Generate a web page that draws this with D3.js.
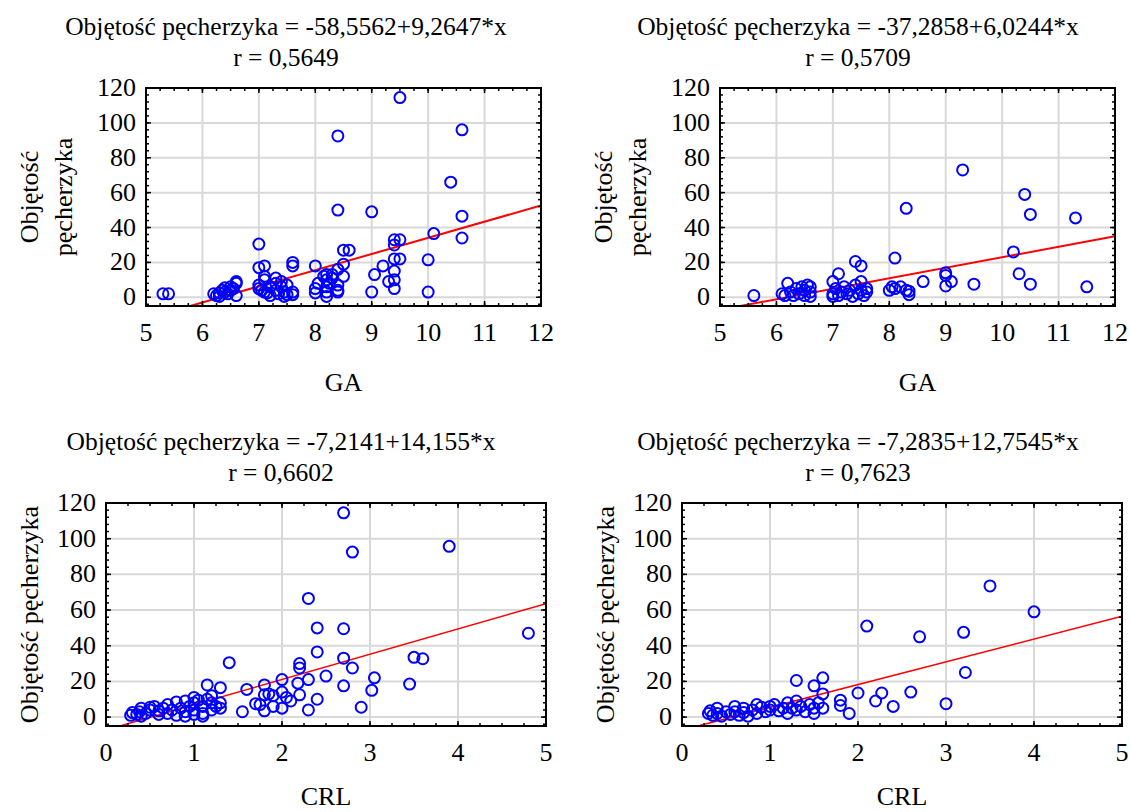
<!DOCTYPE html>
<html>
<head>
<meta charset="utf-8">
<script src="https://d3js.org/d3.v7.min.js"></script>
<style>
body { margin: 0; background: #fff; }
</style>
</head>
<body>
<svg id="chart" width="1130" height="812"></svg>
<script>
// tick values
var gaTicks = [5, 6, 7, 8, 9, 10, 11, 12]
var crlTicks = [0, 1, 2, 3, 4, 5]
var volTicks = [0, 20, 40, 60, 80, 100, 120]

// titles / labels
var titles = [
    "Objętość pęcherzyka = -58,5562+9,2647*x",
    "Objętość pęcherzyka = -37,2858+6,0244*x",
    "Objętość pęcherzyka = -7,2141+14,155*x",
    "Objętość pęcherzyka = -7,2835+12,7545*x"
]
var rLabels = ["r = 0,5649", "r = 0,5709", "r = 0,6602", "r = 0,7623"]
var xLabels = ["GA", "GA", "CRL", "CRL"]
var yLabels = [["Objętość", "pęcherzyka"], ["Objętość", "pęcherzyka"], ["Objętość pęcherzyka"], ["Objętość pęcherzyka"]]

// regression coefficients [intercept, slope]
var coefs = [[-58.5562, 9.2647], [-37.2858, 6.0244], [-7.2141, 14.155], [-7.2835, 12.7545]]

// GA vs volume, first group
var ga1 = [
    [5.3, 2], [5.4, 2],
    [6.2, 2], [6.25, 1], [6.3, 2.5], [6.3, 0.5], [6.35, 4], [6.4, 3], [6.4, 5.5], [6.45, 2], [6.5, 6], [6.5, 4],
    [6.55, 5], [6.6, 9], [6.6, 8], [6.6, 1],
    [7.0, 30.5], [7.0, 17], [7.1, 18], [7.1, 12], [7.1, 10], [7.0, 7], [7.0, 5], [7.05, 4], [7.1, 3], [7.15, 2.5],
    [7.2, 1], [7.2, 6], [7.3, 11], [7.3, 8], [7.3, 4], [7.35, 2], [7.4, 9], [7.4, 6], [7.45, 0.5], [7.45, 3],
    [7.5, 7], [7.5, 1.5], [7.6, 20], [7.6, 18], [7.6, 3], [7.6, 1.5],
    [8.0, 18], [8.0, 5], [8.0, 2.5], [8.05, 8], [8.15, 12], [8.2, 13], [8.2, 10], [8.2, 6], [8.2, 3], [8.2, 0.5],
    [8.25, 8], [8.3, 13], [8.3, 11], [8.4, 92.5], [8.4, 50], [8.4, 16], [8.4, 7], [8.4, 4], [8.4, 3],
    [8.5, 27], [8.6, 27], [8.5, 19], [8.5, 12],
    [9.0, 49], [9.0, 3], [9.05, 13], [9.2, 18], [9.3, 9], [9.4, 33], [9.4, 30], [9.4, 22], [9.4, 15], [9.4, 10],
    [9.4, 5], [9.5, 33], [9.5, 114.5], [9.5, 22],
    [10.0, 21.5], [10.0, 3], [10.1, 36.5], [10.4, 66], [10.6, 96], [10.6, 46.5], [10.6, 34]
]

// GA vs volume, second group
var ga2 = [
    [5.6, 1],
    [6.1, 2], [6.15, 1], [6.2, 8], [6.25, 3], [6.3, 1], [6.35, 5], [6.4, 2], [6.45, 6], [6.5, 4], [6.5, 1],
    [6.55, 7], [6.6, 3], [6.6, 6], [6.6, 0.5],
    [7.0, 9], [7.0, 2], [7.0, 0.5], [7.05, 5], [7.1, 13.5], [7.1, 1], [7.15, 3], [7.2, 6], [7.25, 2], [7.3, 4],
    [7.35, 0.5], [7.4, 20.5], [7.4, 7], [7.45, 2], [7.5, 18], [7.5, 9], [7.5, 4], [7.55, 1], [7.6, 5], [7.6, 3],
    [8.0, 4], [8.05, 6], [8.1, 22.5], [8.1, 5], [8.2, 6], [8.3, 51], [8.3, 4], [8.35, 3.5], [8.35, 1.5], [8.6, 9],
    [9.0, 14], [9.0, 12.5], [9.0, 6.5], [9.1, 9], [9.3, 73], [9.5, 7.5],
    [10.2, 26], [10.3, 13.5], [10.4, 59], [10.5, 47.5], [10.5, 7.5], [11.3, 45.5], [11.5, 6]
]

// CRL vs volume, first group
var crl1 = [
    [0.28, 1], [0.3, 2.5], [0.35, 1.5], [0.38, 3], [0.4, 5], [0.4, 0.5], [0.45, 2], [0.5, 4], [0.5, 5.5], [0.55, 6],
    [0.6, 1.5], [0.6, 3.5], [0.65, 5], [0.7, 7], [0.7, 2], [0.75, 4], [0.8, 8.5], [0.8, 1], [0.85, 5], [0.9, 9],
    [0.9, 3], [0.9, 0.5],
    [0.95, 6], [1.0, 11], [1.0, 8], [1.0, 4], [1.0, 1.5], [1.05, 9.5], [1.1, 2], [1.1, 0.5], [1.1, 6], [1.15, 18],
    [1.15, 10], [1.2, 12], [1.2, 8], [1.2, 4], [1.25, 6], [1.3, 16.5], [1.3, 8], [1.3, 5], [1.4, 30.5],
    [1.55, 3], [1.6, 15.5], [1.7, 7.5], [1.75, 7], [1.8, 18], [1.8, 12.5], [1.8, 3.5], [1.85, 13], [1.9, 12],
    [1.9, 6], [2.0, 21], [2.0, 14], [2.0, 5], [2.05, 11], [2.1, 9],
    [2.2, 30], [2.2, 27.5], [2.18, 19], [2.2, 12.5], [2.3, 66.5], [2.3, 21], [2.3, 4], [2.4, 50], [2.4, 36.5],
    [2.4, 10], [2.5, 23], [2.7, 114.5], [2.7, 49.5], [2.7, 33], [2.7, 17.5], [2.8, 92.5], [2.8, 27.5], [2.9, 5.5],
    [3.02, 15], [3.05, 22], [3.45, 18.5], [3.5, 33.5], [3.6, 32.7], [3.9, 95.7], [4.8, 47]
]

// CRL vs volume, second group
var crl2 = [
    [0.3, 2], [0.32, 3.5], [0.35, 1], [0.4, 5], [0.4, 2], [0.45, 0.5], [0.5, 3], [0.55, 1.5], [0.6, 6], [0.6, 3],
    [0.65, 1], [0.7, 5], [0.7, 2.5], [0.75, 0.5], [0.8, 4], [0.85, 7], [0.85, 2], [0.9, 5.5], [0.95, 3], [1.0, 6],
    [1.0, 4], [1.05, 7], [1.1, 3.5], [1.15, 5], [1.2, 8], [1.2, 2], [1.25, 5], [1.3, 20.5], [1.3, 9], [1.3, 4],
    [1.35, 6], [1.4, 3], [1.45, 7], [1.5, 17.5], [1.5, 5], [1.5, 2], [1.55, 8], [1.6, 22], [1.6, 13], [1.6, 5],
    [1.8, 9.5], [1.8, 6.5], [1.9, 2], [2.0, 13.5], [2.1, 51], [2.2, 9], [2.27, 13.5], [2.4, 6], [2.6, 14],
    [2.7, 45], [3.0, 7.5], [3.2, 47.5], [3.22, 25], [3.5, 73.5], [4.0, 59]
]

var datasets = [ga1, ga2, crl1, crl2]
var xTickSets = [gaTicks, gaTicks, crlTicks, crlTicks]

// layout of each panel (frame box, title centre, y label baselines)
var panels = [
    {left: 146, right: 541, top: 88, bottom: 306, titleX: 286, lw: 2, ylx: [38, 72], xlab: 85},
    {left: 720, right: 1115, top: 88, bottom: 306, titleX: 858, lw: 2, ylx: [612, 646], xlab: 85},
    {left: 106, right: 546, top: 503, bottom: 726, titleX: 281, lw: 1.5, ylx: [38], xlab: 79},
    {left: 682, right: 1122, top: 503, bottom: 726, titleX: 858, lw: 1.5, ylx: [614], xlab: 79}
]

var svg = d3.select("#chart")
var fs = 26

function label(sel, size) {
    return sel.style("font-family", "'Liberation Serif'").style("font-size", (size || fs) + "px").attr("fill", "#000")
}

panels.forEach(function(p, i) {
    var xt = xTickSets[i]
    var x = d3.scaleLinear().domain([xt[0], xt[xt.length - 1]]).range([p.left, p.right])
    var y = d3.scaleLinear().domain([-5, 120]).range([p.bottom, p.top])
    var g = svg.append("g")

    // titles
    label(g.append("text"), 25.5).attr("x", p.titleX).attr("y", p.top - 53)
        .attr("text-anchor", "middle").text(titles[i])
    label(g.append("text"), 25.5).attr("x", p.titleX).attr("y", p.top - 22)
        .attr("text-anchor", "middle").text(rLabels[i])

    // grid
    g.selectAll(".gx").data(xt).enter().append("line")
        .attr("x1", function(d) { return x(d) }).attr("x2", function(d) { return x(d) })
        .attr("y1", p.top).attr("y2", p.bottom)
        .attr("stroke", "#d9d9d9").attr("stroke-width", 2)
    g.selectAll(".gy").data(volTicks).enter().append("line")
        .attr("y1", function(d) { return y(d) }).attr("y2", function(d) { return y(d) })
        .attr("x1", p.left).attr("x2", p.right)
        .attr("stroke", "#d9d9d9").attr("stroke-width", 2)

    // clip
    var clipId = "clip" + i
    svg.append("clipPath").attr("id", clipId).append("rect")
        .attr("x", p.left).attr("y", p.top).attr("width", p.right - p.left).attr("height", p.bottom - p.top)

    // regression line
    var c = coefs[i]
    var xd = x.domain()
    g.append("line").attr("clip-path", "url(#" + clipId + ")")
        .attr("x1", x(xd[0])).attr("y1", y(c[0] + c[1] * xd[0]))
        .attr("x2", x(xd[1])).attr("y2", y(c[0] + c[1] * xd[1]))
        .attr("stroke", "#ff0000").attr("stroke-width", p.lw)

    // points
    g.append("g").attr("clip-path", "url(#" + clipId + ")")
        .selectAll("circle").data(datasets[i]).enter().append("circle")
        .attr("cx", function(d) { return x(d[0]) })
        .attr("cy", function(d) { return y(d[1]) })
        .attr("r", 5.5)
        .attr("fill", "none").attr("stroke", "#0000ff").attr("stroke-width", 2)

    // minor + major ticks, inward, all four sides
    var xMinor = d3.range(xd[0], xd[1] + 0.001, 0.25)
    var yMinor = d3.range(-4, 120.001, 4)
    function tickX(vals, len) {
        vals.forEach(function(v) {
            g.append("line").attr("x1", x(v)).attr("x2", x(v)).attr("y1", p.top).attr("y2", p.top + len)
                .attr("stroke", "#000").attr("stroke-width", 1.5)
            g.append("line").attr("x1", x(v)).attr("x2", x(v)).attr("y1", p.bottom).attr("y2", p.bottom - len)
                .attr("stroke", "#000").attr("stroke-width", 1.5)
        })
    }
    function tickY(vals, len) {
        vals.forEach(function(v) {
            g.append("line").attr("y1", y(v)).attr("y2", y(v)).attr("x1", p.left).attr("x2", p.left + len)
                .attr("stroke", "#000").attr("stroke-width", 1.5)
            g.append("line").attr("y1", y(v)).attr("y2", y(v)).attr("x1", p.right).attr("x2", p.right - len)
                .attr("stroke", "#000").attr("stroke-width", 1.5)
        })
    }
    tickX(xMinor, 3)
    tickX(xt, 5)
    tickY(yMinor, 3)
    tickY(volTicks, 5)

    // frame
    g.append("rect").attr("x", p.left).attr("y", p.top)
        .attr("width", p.right - p.left).attr("height", p.bottom - p.top)
        .attr("fill", "none").attr("stroke", "#000").attr("stroke-width", 2)

    // tick labels
    label(g.selectAll(".xl").data(xt).enter().append("text"))
        .attr("x", function(d) { return x(d) }).attr("y", p.bottom + 35)
        .attr("text-anchor", "middle")
        .text(function(d) { return d })
    label(g.selectAll(".yl").data(volTicks).enter().append("text"))
        .attr("x", p.left - 10).attr("y", function(d) { return y(d) + 8 })
        .attr("text-anchor", "end")
        .text(function(d) { return d })

    // axis labels
    label(g.append("text")).attr("x", (p.left + p.right) / 2).attr("y", p.bottom + p.xlab)
        .attr("text-anchor", "middle").text(xLabels[i])
    var cy = (p.top + p.bottom) / 2
    yLabels[i].forEach(function(s, k) {
        label(g.append("text")).attr("transform", "translate(" + p.ylx[k] + "," + cy + ") rotate(-90)")
            .attr("text-anchor", "middle").text(s)
    })
})
</script>
</body>
</html>
